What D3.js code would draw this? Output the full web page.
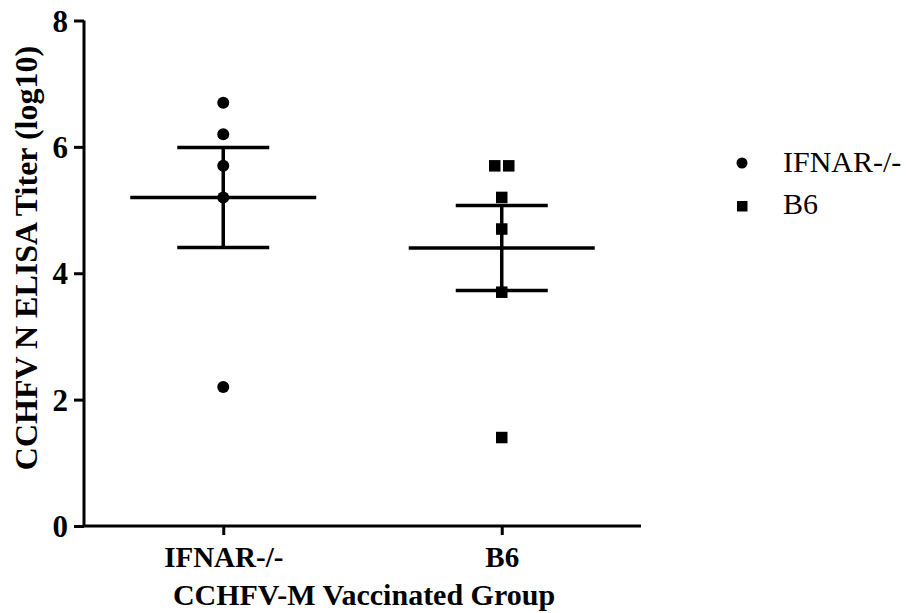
<!DOCTYPE html>
<html>
<head>
<meta charset="utf-8">
<script src="https://cdn.jsdelivr.net/npm/d3@7"></script>
<style>
  body { margin: 0; background: #fff; }
  svg text { font-family: "Liberation Serif", "Times New Roman", serif; fill: #000; }
</style>
</head>
<body>
<div id="graph"></div>
<script>
// groups and titer values (log10)
const groups = ["IFNAR-/-", "B6"];
const ifnarValues = [6.7, 6.2, 5.7, 5.2, 2.2];
const b6Values = [5.7, 5.7, 5.2, 4.7, 3.7, 1.4];
const b6Jitter = [-7, 7, 0, 0, 0, 0]; // the two 5.7 squares sit side by side
const yTicks = [0, 2, 4, 6, 8];

const width = 906, height = 613;
const serif = "'Liberation Serif', 'Times New Roman', serif";

const svg = d3.select("#graph")
  .append("svg")
  .attr("width", width)
  .attr("height", height);

// scales
const xScale = d3.scalePoint()
  .domain(groups)
  .range([84, 641])
  .padding(0.5);

const yScale = d3.scaleLinear()
  .domain([0, 8])
  .range([526, 20.5]);

// axes
const yAxis = d3.axisLeft(yScale).tickValues(yTicks).tickSize(10).tickPadding(6);
const xAxis = d3.axisBottom(xScale).tickSize(9).tickPadding(4);

const yAxisSvg = svg.append("g")
  .attr("transform", "translate(84,0)")
  .call(yAxis);
yAxisSvg.select(".domain").attr("d", "M-0,20.5H0V526").attr("stroke-width", 3);
yAxisSvg.selectAll(".tick line").attr("stroke-width", 3);
yAxisSvg.selectAll(".tick text")
  .style("font-family", serif)
  .style("font-size", "31px")
  .style("font-weight", "bold")
  .attr("dy", "0.34em");

const xAxisSvg = svg.append("g")
  .attr("transform", "translate(0,526)")
  .call(xAxis);
xAxisSvg.select(".domain").attr("d", "M84,0H641").attr("stroke-width", 3);
xAxisSvg.selectAll(".tick line").attr("stroke-width", 3);
xAxisSvg.selectAll(".tick text")
  .style("font-family", serif)
  .style("font-size", "29px")
  .style("font-weight", "bold")
  .attr("y", 41)
  .attr("dy", 0);

// axis titles
svg.append("text")
  .attr("x", 364)
  .attr("y", 605)
  .attr("text-anchor", "middle")
  .style("font-family", serif)
  .style("font-size", "30px")
  .style("font-weight", "bold")
  .text("CCHFV-M Vaccinated Group");

svg.append("text")
  .attr("transform", "translate(37,258) rotate(-90)")
  .attr("text-anchor", "middle")
  .style("font-family", serif)
  .style("font-size", "32px")
  .style("font-weight", "bold")
  .text("CCHFV N ELISA Titer (log10)");

// mean and SEM bars
const groupData = [
  {name: "IFNAR-/-", values: ifnarValues},
  {name: "B6", values: b6Values}
];
groupData.forEach(g => {
  const m = d3.mean(g.values);
  const sem = d3.deviation(g.values) / Math.sqrt(g.values.length);
  const cx = xScale(g.name);
  const bars = svg.append("g").attr("stroke", "#000").attr("stroke-width", 3.5);
  bars.append("line")
    .attr("x1", cx - 93).attr("x2", cx + 93)
    .attr("y1", yScale(m)).attr("y2", yScale(m));
  bars.append("line")
    .attr("x1", cx).attr("x2", cx)
    .attr("y1", yScale(m + sem)).attr("y2", yScale(m - sem));
  [m + sem, m - sem].forEach(v => {
    bars.append("line")
      .attr("x1", cx - 46).attr("x2", cx + 46)
      .attr("y1", yScale(v)).attr("y2", yScale(v));
  });
});

// points
svg.selectAll("circle.pt")
  .data(ifnarValues)
  .enter()
  .append("circle")
  .attr("class", "pt")
  .attr("cx", xScale("IFNAR-/-"))
  .attr("cy", d => yScale(d))
  .attr("r", 6)
  .attr("fill", "#000");

var sq = 11.5;
svg.selectAll("rect.pt")
  .data(b6Values)
  .enter()
  .append("rect")
  .attr("class", "pt")
  .attr("x", (d, i) => xScale("B6") + b6Jitter[i] - sq / 2)
  .attr("y", d => yScale(d) - sq / 2)
  .attr("width", sq)
  .attr("height", sq)
  .attr("fill", "#000");

// legend
const legend = svg.append("g");
legend.append("circle")
  .attr("cx", 742).attr("cy", 163).attr("r", 5.5).attr("fill", "#000");
legend.append("rect")
  .attr("x", 737).attr("y", 201).attr("width", 10.5).attr("height", 10.5).attr("fill", "#000");
legend.append("text")
  .attr("x", 783).attr("y", 172)
  .style("font-family", serif)
  .style("font-size", "30px")
  .text("IFNAR-/-");
legend.append("text")
  .attr("x", 783).attr("y", 214)
  .style("font-family", serif)
  .style("font-size", "30px")
  .text("B6");
</script>
</body>
</html>
